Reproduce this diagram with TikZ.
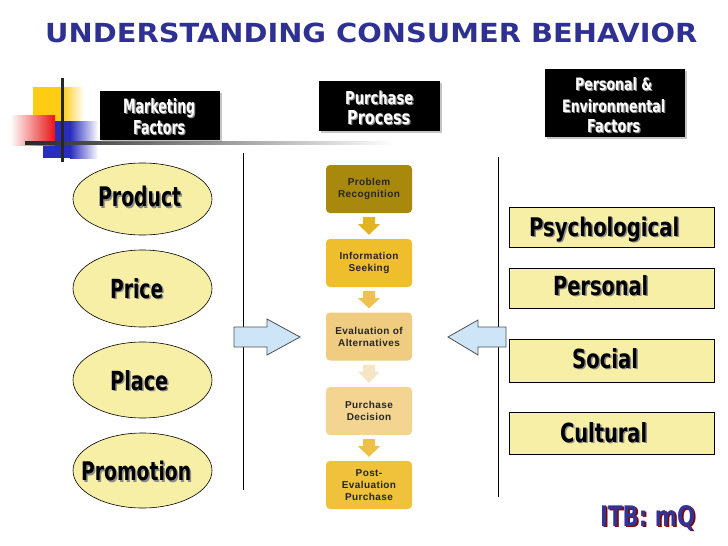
\documentclass[tikz,border=0pt]{standalone}
\usepackage{fontspec}
\usepackage{graphicx}
\setmainfont{Liberation Sans}
\newfontfamily\heavyfont{DejaVu Sans}
\newfontfamily\flowfont[LetterSpace=4]{Liberation Sans}
\usetikzlibrary{shapes.geometric,calc,shadows}
\definecolor{titleblue}{RGB}{46,49,146}
\definecolor{paleyel}{RGB}{248,239,166}
\definecolor{arrblue}{RGB}{205,229,247}
\definecolor{arredge}{RGB}{80,80,80}
\definecolor{decoyel}{RGB}{255,204,20}
\definecolor{decoblue}{RGB}{40,45,190}
\definecolor{decored}{RGB}{232,20,20}
\definecolor{fa}{RGB}{168,137,14}
\definecolor{fb}{RGB}{239,190,45}
\definecolor{fc}{RGB}{239,204,128}
\definecolor{fd}{RGB}{243,213,145}
\definecolor{fe}{RGB}{240,193,58}
\definecolor{aa}{RGB}{226,180,34}
\definecolor{ab}{RGB}{238,193,80}
\definecolor{ac}{RGB}{246,229,196}
\definecolor{ad}{RGB}{239,192,72}
\definecolor{itbblue}{RGB}{51,51,150}
\definecolor{itbred}{RGB}{130,0,0}
\tikzset{
  htext/.style={anchor=base west, inner sep=0pt, font=\heavyfont\bfseries},
  hbox/.style={fill=black, draw=none, inner sep=0pt, drop shadow={shadow xshift=1.5pt, shadow yshift=-1.5pt, opacity=0.45}},
  ell/.style={ellipse, draw=black, line width=0.6pt, fill=paleyel, minimum width=139pt, inner sep=0pt},
  sbox/.style={rectangle, draw=black, line width=0.8pt, fill=paleyel, minimum width=205pt, inner sep=0pt},
  fbox/.style={rectangle, rounded corners=4pt, minimum width=86pt, minimum height=48pt, inner sep=0pt, align=center, text=black!85, font=\flowfont\bfseries\fontsize{10}{12}\selectfont},
  blockarrow/.style={fill=arrblue, draw=arredge, line width=0.8pt, line join=miter}
}
% one node: text with its offset shadow
\newcommand\heavytext[9]{%
  \node[htext, text=#6] (#1) at (#2,#3) {\makebox[0pt][l]{\hspace{#9pt}\raisebox{-#9pt}{\color{#7}\resizebox{#4pt}{#5pt}{#8}}}\resizebox{#4pt}{#5pt}{#8}};}
\newcommand\flowarrow[3]{%
  \fill[#3] ($(#1.south)+(-6,4)$) -- ($(#1.south)+(6,4)$) -- ($(#1.south)+(6,11)$) -- ($(#1.south)+(11,11)$)
    -- ($(#2.north)+(0,-4)$) -- ($(#1.south)+(-11,11)$) -- ($(#1.south)+(-6,11)$) -- cycle;}
\begin{document}
\begin{tikzpicture}[x=1pt, y=-1pt]
\useasboundingbox (0,0) rectangle (728,546);
\fill[white] (0,0) rectangle (728,546);
% title
\node[anchor=base west, inner sep=0pt, text=titleblue, font=\heavyfont\bfseries] (title) at (45,42) {\resizebox{652pt}{19.5pt}{UNDERSTANDING CONSUMER BEHAVIOR}};
% decoration
\fill[decoyel] (33,87) rectangle (62,121);
\shade[left color=decoyel, right color=white] (62,87) rectangle (84,121);
\fill[decoblue] (43,121) rectangle (70,158);
\shade[left color=decoblue, right color=white] (70,121) rectangle (98,158);
\shade[left color=white, right color=decored] (10,115) rectangle (55,145);
\shade[left color=black!85, right color=white] (25,141.5) rectangle (395,144.5);
\draw[line width=3pt, black!85] (62,78) -- (62,162);
% header boxes
\node[hbox, minimum width=120pt, minimum height=49pt] (mf) at (160,115.5) {};
\node[hbox, minimum width=121pt, minimum height=50pt] (pp) at (379.5,106) {};
\node[hbox, minimum width=140pt, minimum height=68pt] (pe) at (615,103) {};
\heavytext{mfa}{123}{113}{72}{15}{white}{black!45}{Marketing}{1.2}
\heavytext{mfb}{133}{134}{52}{14}{white}{black!45}{Factors}{1.2}
\heavytext{ppa}{345}{104}{68}{13.5}{white}{black!45}{Purchase}{1.2}
\heavytext{ppb}{347}{124}{63}{14}{white}{black!45}{Process}{1.2}
\heavytext{pea}{575}{90}{77}{13}{white}{black!45}{Personal \&}{1.2}
\heavytext{peb}{562}{112}{103}{13}{white}{black!45}{Environmental}{1.2}
\heavytext{pec}{587}{132}{53}{13}{white}{black!45}{Factors}{1.2}
% divider lines
\draw[line width=0.8pt] (243,153) -- (243,490);
\draw[line width=0.8pt] (498,157) -- (498,497);
% ellipses
\node[ell, minimum height=72pt] (prod) at (142.5,199) {};
\node[ell, minimum height=77pt] (price) at (142.5,288.5) {};
\node[ell, minimum height=76pt] (place) at (142.5,380) {};
\node[ell, minimum height=75pt] (promo) at (142.5,470.5) {};
\heavytext{prodt}{98}{206.5}{83}{20.5}{black}{black!45}{Product}{1.5}
\heavytext{pricet}{110}{298}{53}{20}{black}{black!45}{Price}{1.5}
\heavytext{placet}{110}{390}{58}{20}{black}{black!45}{Place}{1.5}
\heavytext{promot}{81}{480.5}{110}{19.5}{black}{black!45}{Promotion}{1.5}
% side boxes
\node[sbox, minimum height=40pt] (psy) at (611.5,227) {};
\node[sbox, minimum height=40pt] (pers) at (611.5,288) {};
\node[sbox, minimum height=43pt] (soc) at (611.5,360.5) {};
\node[sbox, minimum height=42pt] (cult) at (611.5,433) {};
\heavytext{psyt}{529}{236}{150}{19.5}{black}{black!45}{Psychological}{1.5}
\heavytext{perst}{553}{295}{95}{20}{black}{black!45}{Personal}{1.5}
\heavytext{soct}{572}{368}{66}{20}{black}{black!45}{Social}{1.5}
\heavytext{cultt}{560}{442}{87}{20}{black}{black!45}{Cultural}{1.5}
% flow
\node[fbox, fill=fa] (f1) at (369,189) {Problem\\Recognition};
\node[fbox, fill=fb] (f2) at (369,263) {Information\\Seeking};
\node[fbox, fill=fc] (f3) at (369,336.5) {Evaluation of\\Alternatives};
\node[fbox, fill=fd] (f4) at (369,411) {Purchase\\Decision};
\node[fbox, fill=fe] (f5) at (369,485) {Post-\\Evaluation\\Purchase};
\flowarrow{f1}{f2}{aa}
\flowarrow{f2}{f3}{ab}
\flowarrow{f3}{f4}{ac}
\flowarrow{f4}{f5}{ad}
% block arrows
\draw[blockarrow] (234,327) -- (267,327) -- (267,319) -- (300,337) -- (267,355) -- (267,347) -- (234,347) -- cycle;
\draw[blockarrow] (506,327) -- (478,327) -- (478,320) -- (448,337) -- (478,355) -- (478,347) -- (506,347) -- cycle;
% signature
\heavytext{itb}{600}{526}{95}{21}{itbblue}{itbred}{ITB: mQ}{1.5}
\end{tikzpicture}
\end{document}
